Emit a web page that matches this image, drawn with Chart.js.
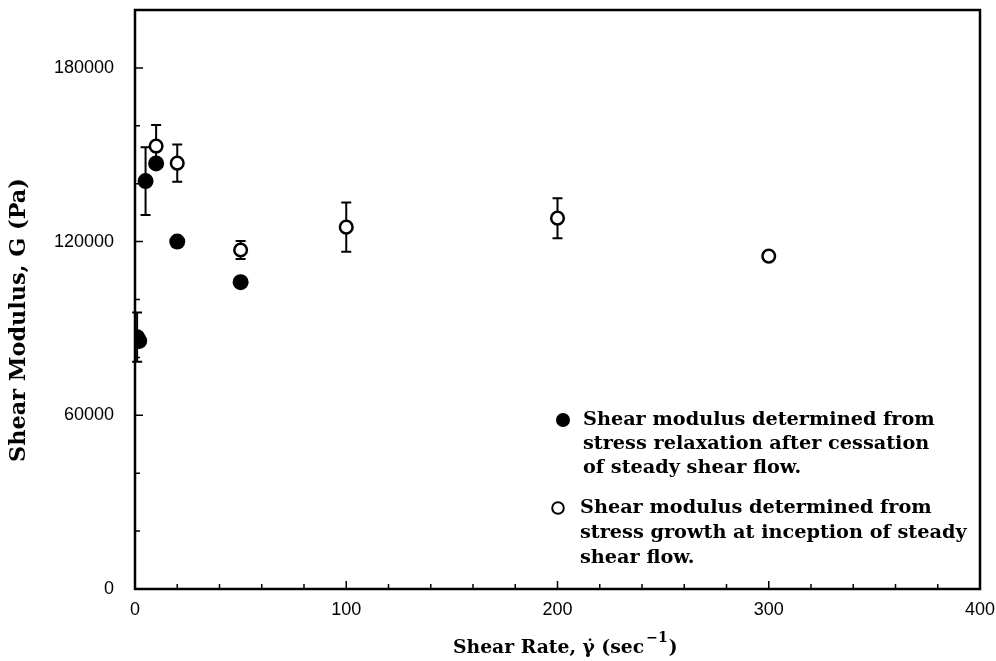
<!DOCTYPE html>
<html><head><meta charset="utf-8">
<script src="https://cdn.jsdelivr.net/npm/chart.js@4"></script>
<style>html,body{margin:0;padding:0;background:#fff}#wrap{width:996px;height:661px;position:relative}</style>
</head><body><div id="wrap"><canvas id="c" width="996" height="661"></canvas></div>
<script>
// ---- data ----
const relaxX = [1, 2, 5, 10, 20, 50];
const relaxG = [87000, 85700, 140900, 147000, 120000, 106000];
const relaxErr = [8500, 0, 11700, 0, 0, 0];
const growthX = [10, 20, 50, 100, 200, 300];
const growthG = [153000, 147100, 117100, 125000, 128100, 115000];
const growthErr = [7300, 6400, 3100, 8500, 6900, 0];
const xTickValues = [0, 100, 200, 300, 400];
const yTickValues = [0, 60000, 120000, 180000];
const xMinorStep = 20;
const yMinorStep = 20000;
const legendRelax = ['Shear modulus determined from', 'stress relaxation after cessation', 'of steady shear flow.'];
const legendGrowth = ['Shear modulus determined from', 'stress growth at inception of steady', 'shear flow.'];
const yTitle = 'Shear Modulus, G (Pa)';
const xTitleParts = ['Shear Rate, ', 'γ\u0307', ' (sec', '\u22121', ')'];

const SERIF = '"DejaVu Serif"';
function fitSize(ctx, text, target, base) {
  ctx.font = 'bold ' + base + 'px ' + SERIF;
  return base * target / ctx.measureText(text).width;
}

const errorBars = {
  id: 'errorBars',
  beforeDatasetsDraw(chart) {
    const ctx = chart.ctx, xs = chart.scales.x, ys = chart.scales.y;
    const sets = [[relaxX, relaxG, relaxErr], [growthX, growthG, growthErr]];
    ctx.save();
    ctx.strokeStyle = '#000'; ctx.lineWidth = 2;
    sets.forEach(([X, G, E]) => {
      X.forEach((xv, i) => {
        if (!E[i]) return;
        const px = xs.getPixelForValue(xv);
        const t = ys.getPixelForValue(G[i] + E[i]);
        const b = ys.getPixelForValue(G[i] - E[i]);
        ctx.beginPath();
        ctx.moveTo(px, t); ctx.lineTo(px, b);
        ctx.moveTo(px - 5, t); ctx.lineTo(px + 5, t);
        ctx.moveTo(px - 5, b); ctx.lineTo(px + 5, b);
        ctx.stroke();
      });
    });
    ctx.restore();
  }
};

function drawXTitle(ctx, size, x, yb, draw) {
  const start = x;
  xTitleParts.forEach((p, i) => {
    if (i === 3) {
      ctx.font = 'bold ' + (size * 0.75) + 'px ' + SERIF;
      if (draw) ctx.fillText(p, x + 2, yb - 10);
      x += ctx.measureText(p).width + 3;
      ctx.font = 'bold ' + size + 'px ' + SERIF;
    } else {
      ctx.font = 'bold ' + size + 'px ' + SERIF;
      if (draw) ctx.fillText(p, x, yb);
      x += ctx.measureText(p).width;
    }
  });
  return x - start;
}

const frame = {
  id: 'frame',
  afterDraw(chart) {
    const ctx = chart.ctx, a = chart.chartArea, xs = chart.scales.x, ys = chart.scales.y;
    ctx.save();
    ctx.strokeStyle = '#000';
    ctx.lineWidth = 2.5;
    ctx.strokeRect(a.left, a.top, a.right - a.left, a.bottom - a.top);
    ctx.lineWidth = 1.5;
    ctx.beginPath();
    for (let v = xs.min + xMinorStep; v < xs.max; v += xMinorStep) {
      const px = xs.getPixelForValue(v);
      const len = xTickValues.includes(v) ? 8 : 5;
      ctx.moveTo(px, a.bottom); ctx.lineTo(px, a.bottom - len);
    }
    for (let v = ys.min + yMinorStep; v < ys.max; v += yMinorStep) {
      const py = ys.getPixelForValue(v);
      const len = yTickValues.includes(v) ? 8 : 5;
      ctx.moveTo(a.left, py); ctx.lineTo(a.left + len, py);
    }
    ctx.stroke();

    // legend
    ctx.fillStyle = '#000';
    const fs = fitSize(ctx, legendRelax[0], 352, 16);
    ctx.font = 'bold ' + fs + 'px ' + SERIF;
    ctx.textBaseline = 'middle'; ctx.textAlign = 'left';
    ctx.beginPath(); ctx.arc(563, 420, 7, 0, Math.PI * 2); ctx.fill();
    legendRelax.forEach((t, i) => ctx.fillText(t, 583, 420 + i * 24));
    ctx.lineWidth = 2;
    ctx.beginPath(); ctx.arc(558, 508, 5.8, 0, Math.PI * 2); ctx.stroke();
    legendGrowth.forEach((t, i) => ctx.fillText(t, 580, 508 + i * 25));

    // y title
    const ys2 = fitSize(ctx, yTitle, 284, 16);
    ctx.font = 'bold ' + ys2 + 'px ' + SERIF;
    ctx.save();
    ctx.translate(19, 320); ctx.rotate(-Math.PI / 2);
    ctx.textAlign = 'center';
    ctx.fillText(yTitle, 0, 0);
    ctx.restore();

    // x title
    const w0 = drawXTitle(ctx, 17, 0, 0, false);
    const xfs = 17 * 225 / w0;
    drawXTitle(ctx, xfs, 453, 648, true);
    ctx.restore();
  }
};

const plainNum = v => String(v);
const zeroPad = s => { s.paddingTop = 0; s.paddingBottom = 0; s.paddingLeft = 0; s.paddingRight = 0; };

new Chart(document.getElementById('c'), {
  type: 'scatter',
  data: {
    datasets: [
      { label: 'relaxation', data: relaxX.map((x, i) => ({ x, y: relaxG[i] })),
        backgroundColor: '#000', borderColor: '#000', borderWidth: 0, pointRadius: 8, pointHoverRadius: 8 },
      { label: 'growth', data: growthX.map((x, i) => ({ x, y: growthG[i] })),
        backgroundColor: '#fff', borderColor: '#000', borderWidth: 2.5, pointRadius: 6.3, pointHoverRadius: 6.3 }
    ]
  },
  options: {
    responsive: false, animation: false, devicePixelRatio: 1,
    layout: { padding: { top: 10, right: 16, left: 0, bottom: 0 } },
    plugins: { legend: { display: false }, tooltip: { enabled: false } },
    scales: {
      x: {
        type: 'linear', min: 0, max: 400,
        grid: { display: false, drawTicks: false }, border: { display: false },
        afterBuildTicks: s => { s.ticks = xTickValues.map(v => ({ value: v })); },
        afterFit: s => { s.height = 72; zeroPad(s); },
        ticks: { color: '#000', font: { family: '"Liberation Sans"', size: 18 }, padding: 10, maxRotation: 0, callback: plainNum }
      },
      y: {
        type: 'linear', min: 0, max: 200000,
        grid: { display: false, drawTicks: false }, border: { display: false },
        afterBuildTicks: s => { s.ticks = yTickValues.map(v => ({ value: v })); },
        afterFit: s => { s.width = 135; zeroPad(s); },
        ticks: { color: '#000', font: { family: '"Liberation Sans"', size: 18 }, padding: 21, callback: plainNum }
      }
    }
  },
  plugins: [errorBars, frame]
});
</script></body></html>
